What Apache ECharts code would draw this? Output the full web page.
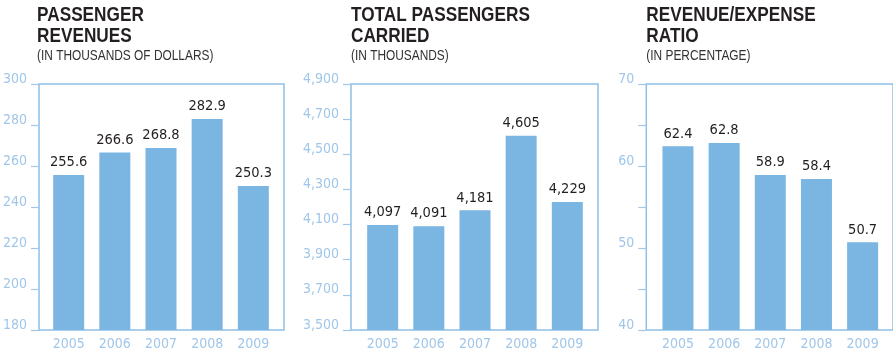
<!DOCTYPE html>
<html>
<head>
<meta charset="utf-8">
<script src="https://cdn.jsdelivr.net/npm/echarts@6/dist/echarts.min.js"></script>
<style>
  html, body { margin: 0; padding: 0; background: #fff; }
  #main { width: 893px; height: 356px; }
</style>
</head>
<body>
<div id="main"></div>
<script>
  // data
  var years = ['2005', '2006', '2007', '2008', '2009'];
  var revenues = [255.6, 266.6, 268.8, 282.9, 250.3];
  var passengers = [4097, 4091, 4181, 4605, 4229];
  var ratios = [62.4, 62.8, 58.9, 58.4, 50.7];
  // [min, max, interval]
  var revenueAxis = [180, 300, 20];
  var passengerAxis = [3500, 4900, 200];
  var ratioAxis = [40, 70, 5];
  var ratioLabels = [40, 50, 60, 70];

  var font = '"DejaVu Sans Condensed", "Liberation Sans", sans-serif';
  var barColor = '#7bb5e2';
  var lineColor = '#8fc0e8';
  var labelColor = '#a0c6ea';

  var panels = [
    {left: 37, box: 247, title: 'PASSENGER\nREVENUES', sub: '(IN THOUSANDS OF DOLLARS)',
      data: revenues, axis: revenueAxis, fmt: function (v) { return v; }},
    {left: 351, box: 247, title: 'TOTAL PASSENGERS\nCARRIED', sub: '(IN THOUSANDS)',
      data: passengers, axis: passengerAxis, fmt: function (v) { return v.toLocaleString('en-US'); }},
    // right edge of the last box falls just outside the picture
    {left: 646.3, box: 249, title: 'REVENUE/EXPENSE\nRATIO', sub: '(IN PERCENTAGE)',
      data: ratios, axis: ratioAxis, fmt: function (v) { return ratioLabels.indexOf(v) >= 0 ? v : ''; }}
  ];

  var graphic = [], grid = [], xAxis = [], yAxis = [], series = [];

  panels.forEach(function (p, i) {
    // narrow headline type: squeeze Liberation Sans horizontally
    graphic.push({
      type: 'text', x: p.left, y: 5, scaleX: 0.82,
      style: {text: p.title, font: 'bold 21px "Liberation Sans", sans-serif',
        fill: '#231f20', lineHeight: 21, verticalAlign: 'top'}
    });
    graphic.push({
      type: 'text', x: p.left, y: 48, scaleX: 0.82,
      style: {text: p.sub, font: '14.5px "Liberation Sans", sans-serif',
        fill: '#333', lineHeight: 16, verticalAlign: 'top'}
    });

    // outer box with the value scale
    grid.push({left: p.left, width: p.box, top: 84, bottom: 26, show: true,
      borderColor: lineColor, borderWidth: 1.5, backgroundColor: 'transparent'});
    // inner band where the bars sit
    grid.push({left: p.left + 8.6, width: 230.8, top: 84, bottom: 26});

    xAxis.push({type: 'value', gridIndex: 2 * i, show: false});
    xAxis.push({
      type: 'category', gridIndex: 2 * i + 1, data: years,
      axisLine: {show: false}, axisTick: {show: false},
      axisLabel: {fontFamily: font, fontSize: 14, color: labelColor, margin: 7}
    });

    yAxis.push({
      type: 'value', gridIndex: 2 * i, min: p.axis[0], max: p.axis[1], interval: p.axis[2],
      offset: 4,
      axisLine: {show: false},
      axisTick: {show: true, length: 8, lineStyle: {color: labelColor, width: 1.2}},
      splitLine: {show: false},
      axisLabel: {fontFamily: font, fontSize: 14, color: labelColor, margin: 8,
        verticalAlign: 'bottom', lineHeight: 10, formatter: p.fmt}
    });
    yAxis.push({type: 'value', gridIndex: 2 * i + 1, min: p.axis[0], max: p.axis[1], show: false});

    series.push({
      type: 'bar',
      xAxisIndex: 2 * i + 1,
      yAxisIndex: 2 * i + 1,
      data: p.data,
      barWidth: 31,
      itemStyle: {color: barColor},
      label: {
        show: true, position: 'top', distance: 5,
        fontFamily: font, fontSize: 14.5, color: '#231f20',
        formatter: function (d) { return i === 1 ? d.value.toLocaleString('en-US') : d.value; }
      }
    });
  });

  var myChart = echarts.init(document.getElementById('main'));
  myChart.setOption({
    animation: false,
    graphic: graphic,
    grid: grid,
    xAxis: xAxis,
    yAxis: yAxis,
    series: series
  });
</script>
</body>
</html>
